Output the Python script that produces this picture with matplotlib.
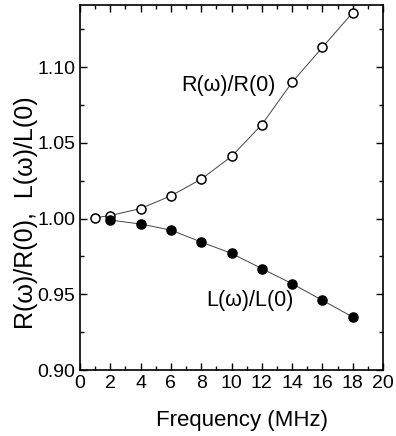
import numpy as np
import matplotlib.pyplot as plt
from matplotlib.ticker import MultipleLocator

plt.rcParams['font.family'] = ['Liberation Sans', 'DejaVu Sans']

# data
freq_R = [1, 2, 4, 6, 8, 10, 12, 14, 16, 18]
R_ratio = [1.0005, 1.002, 1.0066, 1.015, 1.026, 1.041, 1.062, 1.090, 1.113, 1.136]
freq_L = [2, 4, 6, 8, 10, 12, 14, 16, 18]
L_ratio = [0.999, 0.9964, 0.9924, 0.9845, 0.977, 0.967, 0.957, 0.946, 0.935]

fig = plt.figure(figsize=(3.96, 4.36), dpi=100)
ax = fig.add_axes([80/396, 66/436, 303/396, 365/436])

ax.plot(freq_R, R_ratio, '-', color='#444444', lw=0.7, marker='o', ms=6.5,
        mfc='white', mec='black', mew=1.1)
ax.plot(freq_L, L_ratio, '-', color='#444444', lw=0.7, marker='o', ms=6.5,
        mfc='black', mec='black', mew=1.1)

ax.text(9.77, 1.088, 'R(\u03c9)/R(0)', fontsize=15.5, ha='center', va='center')
ax.text(11.2, 0.946, 'L(\u03c9)/L(0)', fontsize=15.5, ha='center', va='center')

ax.set_xlim(0, 20)
ax.set_ylim(0.90, 1.141)
ax.xaxis.set_major_locator(MultipleLocator(2))
ax.xaxis.set_minor_locator(MultipleLocator(1))
ax.yaxis.set_major_locator(MultipleLocator(0.05))
ax.yaxis.set_minor_locator(MultipleLocator(0.025))
ax.yaxis.set_major_formatter(plt.FormatStrFormatter('%.2f'))
ax.tick_params(which='both', direction='in', top=True, right=True, labelsize=14, width=1)
ax.tick_params(which='major', length=5)
ax.tick_params(which='minor', length=3)
for s in ax.spines.values():
    s.set_linewidth(1.2)

ax.set_xlabel('Frequency (MHz)', fontsize=16, labelpad=8)
ax.xaxis.set_label_coords(0.535, -0.11)
ax.set_ylabel('R(\u03c9)/R(0),  L(\u03c9)/L(0)', fontsize=18)
ax.yaxis.set_label_coords(-0.14, 0.43)

fig.savefig('out.png', dpi=100)
